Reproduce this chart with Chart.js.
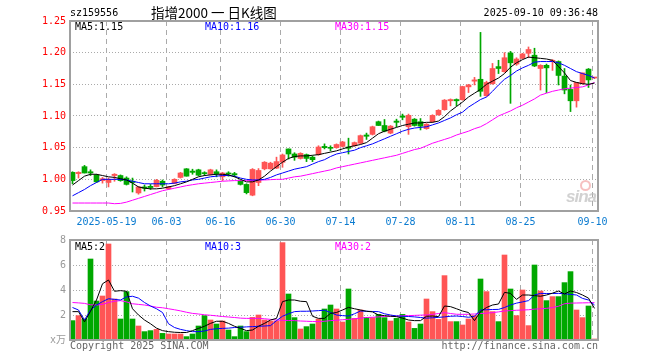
<!DOCTYPE html>
<html><head><meta charset="utf-8">
<script src="https://cdn.jsdelivr.net/npm/chart.js@4.4.1/dist/chart.umd.min.js"></script>
<style>
html,body{margin:0;padding:0;background:#fff;}
#wrap{position:relative;width:660px;height:360px;overflow:hidden;font-family:"DejaVu Sans Mono",monospace;font-size:10px;}
#c1{position:absolute;left:0;top:0;}
#c2{position:absolute;left:0;top:230px;}
.t{position:absolute;white-space:nowrap;line-height:12px;}
</style></head><body>
<div id="wrap">
<canvas id="c1" width="660" height="230"></canvas>
<canvas id="c2" width="660" height="130"></canvas>
<div class="t" style="left:70px;top:7px;color:#000">sz159556</div>
<div class="t" style="left:151px;top:3px;line-height:18px;font-family:'Noto Sans CJK SC';font-size:13.5px;color:#000">指增2000 一 日K线图</div>
<div class="t" style="right:62px;top:7px;color:#000">2025-09-10 09:36:48</div>
<div class="t" style="left:75px;top:21px;color:#000">MA5:1.15</div>
<div class="t" style="left:205px;top:21px;color:#0000ff">MA10:1.16</div>
<div class="t" style="left:335px;top:21px;color:#ff00ff">MA30:1.15</div>
<div class="t" style="left:75px;top:241px;color:#000">MA5:2</div>
<div class="t" style="left:205px;top:241px;color:#0000ff">MA10:3</div>
<div class="t" style="left:335px;top:241px;color:#ff00ff">MA30:2</div>
<div class="t" style="left:70px;top:340px;color:#666">Copyright 2025 SINA.COM</div>
<div class="t" style="right:62px;top:340px;color:#666">http://finance.sina.com.cn</div>
<div style="position:absolute;left:580px;top:180px;width:7px;height:7px;border:2px solid rgba(240,150,150,0.6);border-radius:50%;"></div>
<div class="t" style="left:566px;top:188px;line-height:18px;font-family:'Liberation Sans';font-style:italic;font-weight:bold;font-size:17px;color:rgba(190,190,190,0.7);letter-spacing:-1px">sina</div>
</div>
<script>
const dates = ['2025-05-09','2025-05-12','2025-05-13','2025-05-14','2025-05-15','2025-05-16','2025-05-19','2025-05-20','2025-05-21','2025-05-22',
'2025-05-23','2025-05-26','2025-05-27','2025-05-28','2025-05-29','2025-05-30','2025-06-03','2025-06-04','2025-06-05','2025-06-06',
'2025-06-09','2025-06-10','2025-06-11','2025-06-12','2025-06-13','2025-06-16','2025-06-17','2025-06-18','2025-06-19','2025-06-20',
'2025-06-23','2025-06-24','2025-06-25','2025-06-26','2025-06-27','2025-06-30','2025-07-01','2025-07-02','2025-07-03','2025-07-04',
'2025-07-07','2025-07-08','2025-07-09','2025-07-10','2025-07-11','2025-07-14','2025-07-15','2025-07-16','2025-07-17','2025-07-18',
'2025-07-21','2025-07-22','2025-07-23','2025-07-24','2025-07-25','2025-07-28','2025-07-29','2025-07-30','2025-07-31','2025-08-01',
'2025-08-04','2025-08-05','2025-08-06','2025-08-07','2025-08-08','2025-08-11','2025-08-12','2025-08-13','2025-08-14','2025-08-15',
'2025-08-18','2025-08-19','2025-08-20','2025-08-21','2025-08-22','2025-08-25','2025-08-26','2025-08-27','2025-08-28','2025-08-29',
'2025-09-01','2025-09-02','2025-09-03','2025-09-04','2025-09-05','2025-09-08','2025-09-09','2025-09-10'];
const tickDates = ['2025-05-19','2025-06-03','2025-06-16','2025-06-30','2025-07-14','2025-07-28','2025-08-11','2025-08-25','2025-09-10'];
const tickLabels = ['2025-05-19','06-03','06-16','06-30','07-14','07-28','08-11','08-25','09-10'];
const priceTicks = [0.95,1.00,1.05,1.10,1.15,1.20,1.25];
const volumeTicks = [0,2,4,6,8];

const open = [1.011,1.009,1.020,1.012,1.007,0.998,0.995,1.006,1.006,1.002,
0.997,0.9785,0.988,0.989,0.9885,0.997,0.985,0.9935,1.003,1.0166,
1.013,1.015,1.010,1.0078,1.012,1.004,1.0095,1.009,0.997,0.992,
0.975,0.995,1.0166,1.0166,1.0177,1.027,1.048,1.040,1.033,1.039,
1.035,1.039,1.052,1.050,1.050,1.052,1.051,1.053,1.057,1.070,
1.071,1.091,1.085,1.073,1.092,1.100,1.083,1.095,1.091,1.080,
1.091,1.102,1.110,1.124,1.126,1.1257,1.146,1.155,1.158,1.132,
1.151,1.178,1.170,1.1995,1.182,1.191,1.199,1.196,1.175,1.180,
1.186,1.186,1.163,1.142,1.124,1.151,1.174,1.160];
const high = [1.012,1.012,1.022,1.015,1.008,1.003,1.002,1.009,1.007,1.004,
1.002,0.989,0.991,0.992,1.000,0.999,0.989,1.001,1.011,1.017,
1.016,1.016,1.012,1.016,1.015,1.011,1.012,1.011,0.999,0.993,
1.017,1.017,1.028,1.027,1.035,1.040,1.048,1.042,1.042,1.040,
1.037,1.053,1.056,1.053,1.056,1.060,1.065,1.059,1.070,1.073,
1.084,1.092,1.0945,1.085,1.095,1.103,1.103,1.096,1.096,1.088,
1.102,1.110,1.126,1.127,1.127,1.147,1.150,1.161,1.232,1.155,
1.183,1.188,1.200,1.202,1.192,1.199,1.209,1.207,1.181,1.182,
1.189,1.187,1.175,1.149,1.153,1.168,1.175,1.161];
const low = [0.993,1.002,1.010,1.006,0.995,0.994,0.988,0.997,0.997,0.991,
0.980,0.9765,0.9815,0.984,0.988,0.988,0.984,0.993,1.002,1.005,
1.008,1.0055,1.006,1.007,1.004,0.998,1.005,1.004,0.991,0.977,
0.974,0.990,1.015,1.016,1.017,1.019,1.032,1.030,1.032,1.028,
1.028,1.038,1.048,1.045,1.049,1.051,1.040,1.052,1.056,1.063,
1.070,1.085,1.075,1.072,1.083,1.094,1.071,1.084,1.078,1.079,
1.090,1.101,1.109,1.116,1.116,1.125,1.137,1.149,1.131,1.131,
1.150,1.167,1.169,1.120,1.180,1.190,1.192,1.178,1.141,1.137,
1.172,1.149,1.135,1.107,1.114,1.150,1.145,1.159];
const close = [0.998,1.011,1.010,1.010,0.996,1.001,1.000,1.008,0.998,0.992,
0.995,0.988,0.986,0.987,0.9985,0.991,0.988,1.000,1.010,1.005,
1.011,1.0065,1.009,1.015,1.009,1.010,1.0085,1.007,0.992,0.979,
1.0156,1.014,1.027,1.0255,1.028,1.0385,1.040,1.035,1.041,1.033,
1.031,1.051,1.050,1.049,1.055,1.059,1.049,1.058,1.069,1.068,
1.083,1.085,1.076,1.084,1.090,1.098,1.101,1.085,1.084,1.087,
1.101,1.109,1.125,1.126,1.124,1.1465,1.149,1.157,1.139,1.153,
1.175,1.175,1.192,1.184,1.190,1.198,1.205,1.179,1.180,1.176,
1.188,1.164,1.141,1.124,1.153,1.168,1.157,1.161];
const ma5 = [0.991,0.998,1.005,1.008,1.008,1.006,1.004,1.003,1.001,0.999,
0.994,0.988,0.986,0.985,0.985,0.986,0.988,0.990,0.993,0.996,
1.000,1.004,1.006,1.007,1.008,1.008,1.007,1.004,1.000,0.996,
0.996,0.999,1.005,1.013,1.020,1.027,1.033,1.036,1.037,1.037,
1.038,1.039,1.041,1.043,1.045,1.048,1.051,1.053,1.055,1.058,
1.065,1.072,1.076,1.079,1.082,1.085,1.087,1.089,1.089,1.090,
1.090,1.092,1.099,1.108,1.115,1.122,1.130,1.136,1.142,1.150,
1.155,1.160,1.167,1.177,1.184,1.189,1.193,1.192,1.191,1.190,
1.188,1.178,1.168,1.156,1.153,1.151,1.150,1.152];
const ma10 = [0.974,0.979,0.984,0.990,0.995,1.000,1.000,1.000,1.000,0.999,
0.997,0.995,0.993,0.993,0.993,0.993,0.993,0.994,0.996,0.997,
0.999,1.000,1.002,1.004,1.005,1.006,1.006,1.005,1.002,1.000,
0.999,0.999,1.000,1.003,1.007,1.010,1.013,1.016,1.018,1.020,
1.024,1.028,1.031,1.036,1.040,1.042,1.044,1.046,1.050,1.053,
1.056,1.060,1.064,1.068,1.072,1.076,1.079,1.081,1.082,1.083,
1.086,1.089,1.093,1.097,1.102,1.106,1.114,1.120,1.126,1.130,
1.139,1.149,1.158,1.164,1.171,1.176,1.180,1.185,1.186,1.186,
1.186,1.184,1.180,1.175,1.170,1.167,1.164,1.160];
const ma30 = [0.9626,0.9626,0.9626,0.9626,0.9626,0.9626,0.9626,0.9615,0.962,0.964,
0.967,0.970,0.973,0.976,0.979,0.982,0.984,0.986,0.988,0.990,
0.9915,0.993,0.994,0.995,0.996,0.997,0.9975,0.998,0.998,0.998,
0.998,0.999,0.999,0.9995,1.000,1.000,1.002,1.004,1.005,1.007,
1.009,1.011,1.013,1.015,1.018,1.020,1.022,1.024,1.026,1.028,
1.030,1.032,1.034,1.036,1.038,1.041,1.044,1.047,1.049,1.053,
1.057,1.060,1.063,1.066,1.070,1.073,1.076,1.080,1.083,1.088,
1.094,1.100,1.104,1.108,1.113,1.117,1.122,1.127,1.133,1.136,
1.139,1.141,1.143,1.144,1.145,1.146,1.149,1.153];
const volume = [1.55,1.95,1.68,6.48,3.12,3.52,7.68,3.28,1.68,3.87,
1.68,1.12,0.67,0.75,0.85,0.53,0.48,0.48,0.48,0.27,
0.48,1.12,1.95,1.60,1.28,1.52,0.80,0.27,1.12,0.67,
1.81,2.00,1.60,1.52,1.52,7.79,3.68,1.79,0.88,1.07,
1.28,1.68,2.48,2.80,2.48,1.44,4.08,1.73,2.40,1.81,
1.79,2.05,1.79,1.52,1.73,2.05,1.44,0.93,1.28,3.28,
2.27,1.65,5.15,1.47,1.47,1.20,1.68,1.95,4.88,3.87,
2.27,1.47,6.80,4.08,1.95,4.00,1.15,6.00,3.92,3.15,
3.47,3.47,4.59,5.47,2.40,1.79,2.72,0.08];
const volMa5 = [2.27,2.27,1.45,2.30,3.20,4.50,4.80,3.90,3.95,3.90,
2.50,2.00,1.60,1.30,0.95,0.75,0.67,0.62,0.60,0.60,
0.75,0.93,1.10,1.33,1.50,1.50,1.33,1.10,0.93,0.75,
0.80,1.10,1.33,1.60,1.73,3.07,3.20,3.20,3.10,3.07,
1.90,1.73,1.73,2.13,2.20,2.40,2.61,2.50,2.40,2.30,
2.25,2.00,1.95,1.90,1.87,1.75,1.60,1.55,1.55,1.90,
1.92,1.87,2.72,2.67,2.50,2.32,2.20,1.55,2.27,2.60,
2.80,2.88,3.81,3.73,3.25,3.60,3.60,3.55,3.50,3.60,
3.75,3.92,3.68,3.92,3.80,3.60,3.35,2.53];
const volMa10 = [2.60,2.40,1.60,2.40,2.80,3.07,3.30,3.25,3.20,3.45,
3.50,3.35,3.00,2.72,2.50,2.20,1.30,1.00,0.85,0.75,
0.67,0.67,0.72,0.85,0.90,0.93,0.95,1.00,1.02,1.05,
1.07,1.10,1.12,1.15,1.55,1.90,2.10,2.27,2.30,2.30,
2.32,2.35,2.38,2.20,2.00,1.95,1.92,2.10,2.32,2.30,
2.28,2.27,2.10,2.00,1.92,1.90,1.88,1.85,1.80,1.75,
1.78,1.81,1.85,1.90,1.92,1.88,1.82,1.90,2.40,2.42,
2.44,2.45,2.60,2.80,2.95,3.05,3.15,3.60,3.73,3.72,
3.72,3.73,3.70,3.65,3.60,3.33,3.20,2.80];
const volMa30 = [3.00,2.97,2.93,2.82,2.80,2.85,3.00,3.10,3.15,3.05,
2.90,2.85,2.80,2.72,2.62,2.58,2.50,2.42,2.33,2.22,
2.13,2.08,2.02,1.98,1.93,1.88,1.84,1.80,1.75,1.73,
1.73,1.73,1.70,1.65,1.60,1.58,1.56,1.55,1.52,1.50,
1.48,1.47,1.50,1.55,1.58,1.62,1.65,1.70,1.75,1.80,
1.82,1.85,1.88,1.90,1.92,1.94,1.95,1.97,1.99,2.00,
2.05,2.12,2.19,2.12,2.06,2.05,2.06,2.08,2.12,2.15,
2.19,2.25,2.32,2.35,2.38,2.40,2.42,2.47,2.50,2.53,
2.60,2.70,2.90,2.95,2.96,2.97,2.98,2.99];

const RED = '#ff5555', GREEN = '#00a800';
const colors = dates.map((d, i) => close[i] >= open[i] ? RED : GREEN);
const tickPos = tickDates.map(d => dates.indexOf(d) - 0.3333);
const XMIN = -0.4167, XMAX = XMIN + dates.length;
const MONO = {family: 'DejaVu Sans Mono', size: 10};

const frame = {
  id: 'frame',
  afterDraw(c) {
    const a = c.chartArea, ctx = c.ctx;
    ctx.save();
    ctx.strokeStyle = '#a0a0a0';
    ctx.lineWidth = 2;
    ctx.strokeRect(a.left, a.top, a.right - a.left, a.bottom - a.top);
    ctx.restore();
  }
};

function xScale(showLabels, h) {
  return {
    type: 'linear', min: XMIN, max: XMAX, bounds: 'data', offset: false,
    afterBuildTicks: s => { s.ticks = tickPos.map(v => ({value: v})); },
    afterFit: s => { s.height = h; },
    grid: {color: '#aaaaaa', lineWidth: 1, drawTicks: false, offset: false},
    border: {display: false, dash: [5, 4]},
    ticks: {display: showLabels, autoSkip: false, maxRotation: 0, color: '#0b7bd0', font: MONO, padding: 5,
      callback: (v, i) => tickLabels[i]}
  };
}
function yGridColor(ends) {
  return ctx => (ctx.tick && ends.some(e => Math.abs(ctx.tick.value - e) < 1e-6)) ? 'rgba(0,0,0,0)' : '#aaaaaa';
}
const line = (arr, color) => ({type: 'line', data: arr.map((v, i) => ({x: i, y: v})), borderColor: color,
  borderWidth: 1, pointRadius: 0, tension: 0, order: 1});

new Chart(document.getElementById('c1'), {
  type: 'bar',
  data: {datasets: [
    line(ma5, '#000000'), line(ma10, '#0000ff'), line(ma30, '#ff00ff'),
    {type: 'bar', data: dates.map((d, i) => ({x: i, y: [open[i], close[i]]})), backgroundColor: colors,
      barThickness: 5, minBarLength: 1, grouped: false, order: 2},
    {type: 'bar', data: dates.map((d, i) => ({x: i, y: [low[i], high[i]]})), backgroundColor: colors,
      barThickness: 1, grouped: false, order: 3}
  ]},
  options: {
    responsive: false, animation: false, devicePixelRatio: 1,
    layout: {padding: {top: 21, right: 62, left: 0, bottom: 0}},
    plugins: {legend: {display: false}, tooltip: {enabled: false}},
    scales: {
      x: xScale(true, 19),
      y: {min: 0.95, max: 1.25,
        afterBuildTicks: s => { s.ticks = priceTicks.map(v => ({value: v})); },
        afterFit: s => { s.width = 70; },
        ticks: {color: '#ff0000', font: MONO, padding: 4, callback: v => v.toFixed(2)},
        grid: {drawTicks: false, color: yGridColor([0.95, 1.25])},
        border: {display: false, dash: [1, 2]}}
    }
  },
  plugins: [frame]
});

new Chart(document.getElementById('c2'), {
  type: 'bar',
  data: {datasets: [
    line(volMa5, '#000000'), line(volMa10, '#0000ff'), line(volMa30, '#ff00ff'),
    {type: 'bar', data: dates.map((d, i) => ({x: i, y: volume[i]})), backgroundColor: colors,
      barThickness: 5, grouped: false, order: 2}
  ]},
  options: {
    responsive: false, animation: false, devicePixelRatio: 1,
    layout: {padding: {top: 10, right: 62, left: 0, bottom: 0}},
    plugins: {legend: {display: false}, tooltip: {enabled: false}},
    scales: {
      x: xScale(false, 20),
      y: {min: 0, max: 8,
        afterBuildTicks: s => { s.ticks = volumeTicks.map(v => ({value: v})); },
        afterFit: s => { s.width = 70; },
        ticks: {color: '#999999', font: {family: "'DejaVu Sans Mono','Noto Sans CJK SC'", size: 10}, padding: 4,
          callback: v => v === 0 ? 'x万' : String(v)},
        grid: {drawTicks: false, color: yGridColor([0, 8])},
        border: {display: false, dash: [1, 2]}}
    }
  },
  plugins: [frame]
});
</script>
</body></html>
